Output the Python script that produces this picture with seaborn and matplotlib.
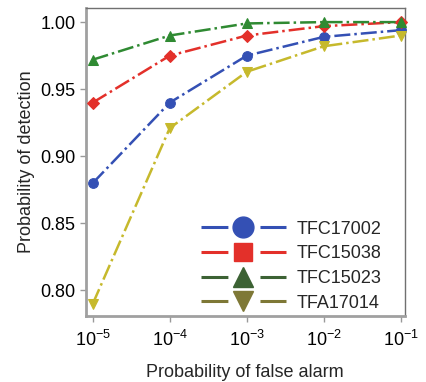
import numpy as np
import pandas as pd
import matplotlib
matplotlib.use("Agg")
import matplotlib.pyplot as plt
import seaborn as sns
from matplotlib.lines import Line2D

# data
far = [1e-5, 1e-4, 1e-3, 1e-2, 1e-1]
names = ["TFC17002", "TFC15038", "TFC15023", "TFA17014"]
pd_17002 = [0.880, 0.940, 0.975, 0.989, 0.994]
pd_15038 = [0.940, 0.975, 0.990, 0.997, 1.000]
pd_15023 = [0.972, 0.990, 0.999, 1.000, 1.000]
pd_17014 = [0.790, 0.921, 0.963, 0.982, 0.990]
series = [pd_17002, pd_15038, pd_15023, pd_17014]

line_colors = ["#3450b4", "#e3302a", "#2f8a32", "#c6b92c"]
plot_markers = ["o", "D", "^", "v"]
leg_colors = ["#3450b4", "#e3302a", "#3c6234", "#7e7836"]
leg_markers = ["o", "s", "^", "v"]
leg_msize = [15, 13, 14, 14]

sns.set_style("ticks")
plt.rcParams["font.family"] = ["Liberation Sans", "DejaVu Sans"]

fig = plt.figure(figsize=(4.27, 3.82), dpi=100)
ax = fig.add_axes([0.201, 0.173, 0.747, 0.806])

for name, vals, c, m in zip(names, series, line_colors, plot_markers):
    df = pd.DataFrame({"far": far, "pd": vals})
    sns.lineplot(data=df, x="far", y="pd", ax=ax, color=c, marker=m,
                 markersize=7 if m != "D" else 6, markeredgecolor=c,
                 linestyle="-.", linewidth=1.8, clip_on=False, zorder=3)

ax.set_xscale("log")
ax.set_xlim(10 ** -5.09, 10 ** -0.948)
ax.set_ylim(0.781, 1.0105)
ax.set_xticks(far)
ax.set_yticks([0.80, 0.85, 0.90, 0.95, 1.00])
ax.set_yticklabels(["0.80", "0.85", "0.90", "0.95", "1.00"])
ax.minorticks_off()
ax.tick_params(labelsize=13, colors="#999999", labelcolor="black",
               length=4, width=1)
ax.tick_params(axis="x", pad=6)
ax.set_xlabel("Probability of false alarm", fontsize=13, labelpad=10)
ax.set_ylabel("Probability of detection", fontsize=13, labelpad=4)

for s in ["left", "bottom"]:
    ax.spines[s].set_color("#a0a0a0")
    ax.spines[s].set_linewidth(2)
for s in ["top", "right"]:
    ax.spines[s].set_color("#707070")
    ax.spines[s].set_linewidth(1)

handles = []
for c, m, ms in zip(leg_colors, leg_markers, leg_msize):
    handles.append(Line2D([0], [0], color=c, linewidth=2.2,
                          linestyle=(0, (8.8, 10.5)), marker=m,
                          markersize=ms, markerfacecolor=c,
                          markeredgecolor=c))
ax.legend(handles, names, loc="lower right", frameon=False, fontsize=13,
          handlelength=4.7, handletextpad=0.6, labelspacing=0.42,
          borderaxespad=0.1, bbox_to_anchor=(0.955, -0.015))

fig.savefig("out.png", dpi=100)
